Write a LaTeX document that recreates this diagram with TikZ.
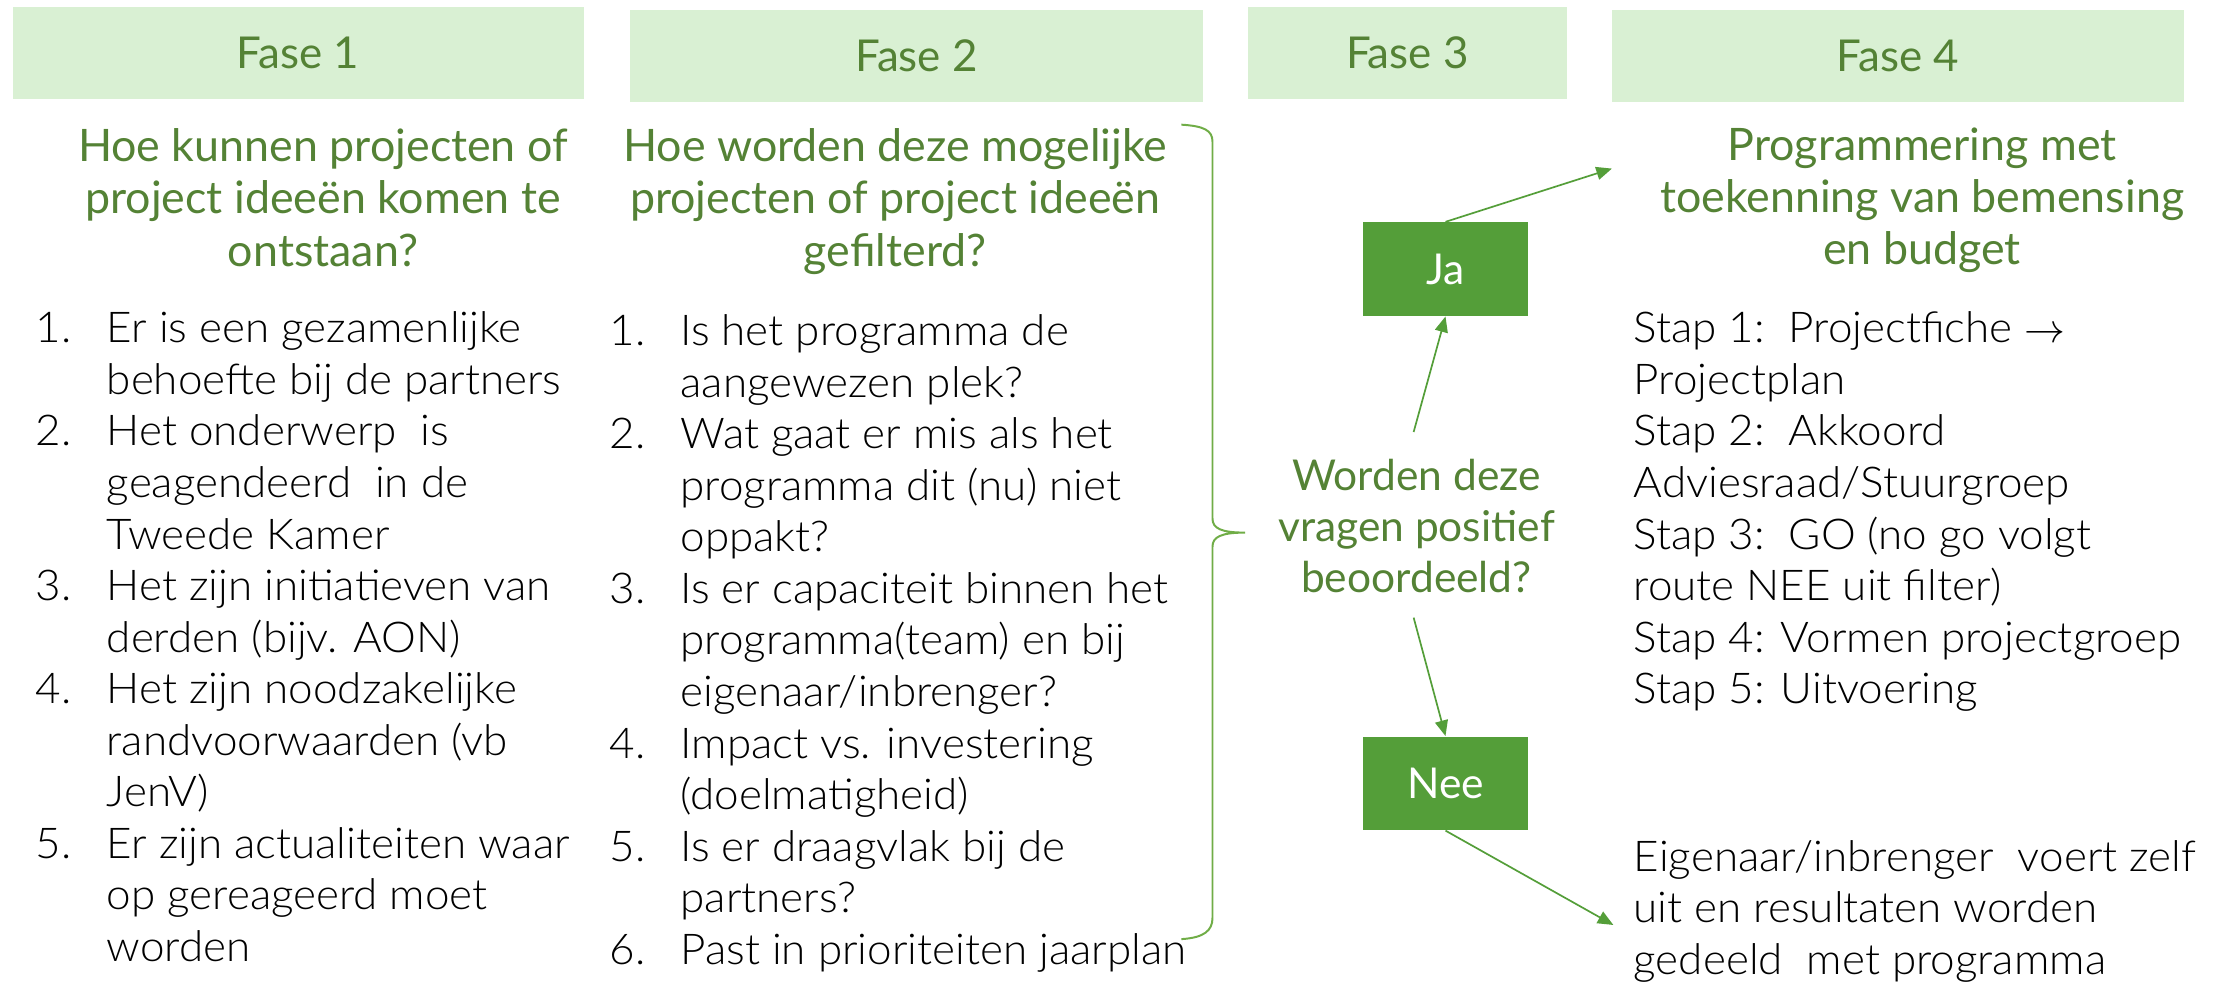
\documentclass[tikz,border=0pt]{standalone}
\usepackage{fontspec}
\setmainfont{Lato}
\newfontfamily\dunfont{Lato Light}[FakeStretch=1.035]
\usetikzlibrary{arrows.meta}
\definecolor{fasegroen}{RGB}{217,240,211}
\definecolor{tekstgroen}{RGB}{84,130,53}
\definecolor{vakgroen}{RGB}{84,158,57}
\definecolor{accoladegroen}{RGB}{112,173,71}
\newcommand{\lijst}[1]{\begin{tabular}[t]{@{}p{25pt}@{}l@{}}#1\end{tabular}}
\newcommand{\regels}[1]{\begin{tabular}[t]{@{}c@{}}#1\end{tabular}}
\begin{document}
\begin{tikzpicture}[x=0.5pt,y=-0.5pt,
  fase/.style={fill=fasegroen,text=tekstgroen,minimum height=32.5pt,inner sep=0pt,
    font=\fontsize{15.5}{18}\selectfont},
  vraag/.style={text=tekstgroen,anchor=base,inner sep=0pt,font=\fontsize{15.8}{18.5}\selectfont},
  tekst/.style={anchor=base west,inner sep=0pt,font=\dunfont\fontsize{15}{18.2}\selectfont},
  keuze/.style={fill=vakgroen,text=white,minimum width=58.5pt,minimum height=33pt,inner sep=0pt,
    font=\fontsize{15}{18}\selectfont},
  pijl/.style={draw=vakgroen,line width=0.6pt,-{Triangle[length=5.5pt,width=4.6pt]}}]
  \useasboundingbox (0,0) rectangle (1568,693);
  \clip (0,0) rectangle (1568,693);
  % fasen
  \node[fase,minimum width=201.5pt] (fase1) at (210.5,37.5) {Fase 1};
  \node[fase,minimum width=202pt] (fase2) at (647,39.5) {Fase 2};
  \node[fase,minimum width=112.5pt] (fase3) at (993.5,37.5) {Fase 3};
  \node[fase,minimum width=202pt] (fase4) at (1340,39.5) {Fase 4};
  % vragen
  \node[vraag] (vraag1) at (228,114) {\regels{Hoe kunnen projecten of\\project ideeën komen te\\ontstaan?}};
  \node[vraag] (vraag2) at (632,114) {\regels{Hoe worden deze mogelijke\\projecten of project ideeën\\gefilterd?}};
  \node[vraag] (vraag4) at (1357,113) {\regels{Programmering met\\toekenning van bemensing\\en budget}};
  \node[vraag,font=\fontsize{15}{18}\selectfont] (vraag3) at (1000,346) {\regels{Worden deze\\vragen positief\\beoordeeld?}};
  % lijsten
  \node[tekst] (lijst1) at (25,242) {\lijst{1. & Er is een gezamenlijke\\ & behoefte bij de partners\\
    2. & Het onderwerp\ \ is\\ & geagendeerd\ \ in de\\ & Tweede Kamer\\
    3. & Het zijn initiatieven van\\ & derden (bijv. AON)\\
    4. & Het zijn noodzakelijke\\ & randvoorwaarden (vb\\ & JenV)\\
    5. & Er zijn actualiteiten waar\\ & op gereageerd moet\\ & worden}};
  \node[tekst] (lijst2) at (430,244) {\lijst{1. & Is het programma de\\ & aangewezen plek?\\
    2. & Wat gaat er mis als het\\ & programma dit (nu) niet\\ & oppakt?\\
    3. & Is er capaciteit binnen het\\ & programma(team) en bij\\ & eigenaar/inbrenger?\\
    4. & Impact vs. investering\\ & (doelmatigheid)\\
    5. & Is er draagvlak bij de\\ & partners?\\
    6. & Past in prioriteiten jaarplan}};
  \node[tekst] (stappen) at (1153,242) {\begin{tabular}[t]{@{}l@{}}Stap 1:\ \ Projectfiche $\rightarrow$\\Projectplan\\
    Stap 2:\ \ Akkoord\\Adviesraad/Stuurgroep\\Stap 3:\ \ GO (no go volgt\\route NEE uit filter)\\
    Stap 4: Vormen projectgroep\\Stap 5: Uitvoering\end{tabular}};
  \node[tekst] (eigenaar) at (1153,615) {\begin{tabular}[t]{@{}l@{}}Eigenaar/inbrenger\ \ voert zelf\\
    uit en resultaten worden\\gedeeld\ \ met programma\end{tabular}};
  % ja / nee
  \node[keuze] (ja) at (1020.5,190) {Ja};
  \node[keuze] (nee) at (1020.5,553) {Nee};
  \coordinate (jastart) at (998,305);
  \coordinate (neestart) at (998,436);
  \coordinate (naarplan) at (1138,119);
  \coordinate (naareigen) at (1139,653);
  \draw[pijl] (jastart) -- (ja.south);
  \draw[pijl] (neestart) -- (nee.north);
  \draw[pijl] (ja.north) -- (naarplan);
  \draw[pijl] (nee.south) -- (naareigen);
  % accolade
  \draw[accoladegroen,line width=0.7pt] (834,88) .. controls (850,89) and (856,92) .. (856,100) -- (856,366)
    .. controls (856,373) and (862,376) .. (879,376) .. controls (862,376) and (856,379) .. (856,386)
    -- (856,648) .. controls (856,657) and (850,662) .. (834,663);
\end{tikzpicture}
\end{document}
